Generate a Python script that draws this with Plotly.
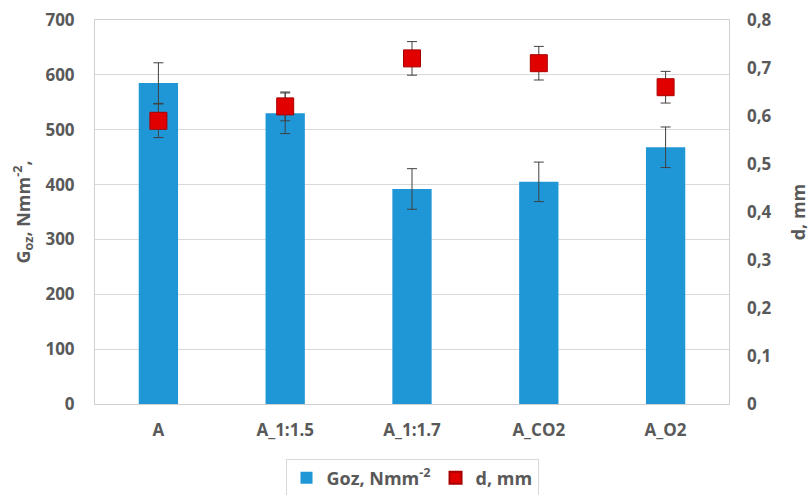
import plotly.graph_objects as go

categories = ["A", "A_1:1.5", "A_1:1.7", "A_CO2", "A_O2"]
goz = [585, 530, 392, 405, 468]
goz_err = [37, 37, 37, 36, 37]
d_mm = [0.59, 0.62, 0.72, 0.71, 0.66]
d_err = [0.035, 0.03, 0.035, 0.035, 0.033]

left_ticks = [0, 100, 200, 300, 400, 500, 600, 700]
right_ticks = [0, 0.1, 0.2, 0.3, 0.4, 0.5, 0.6, 0.7, 0.8]
right_ticktext = ["0", "0,1", "0,2", "0,3", "0,4", "0,5", "0,6", "0,7", "0,8"]

FONT = "Open Sans"
GRAY = "#595959"

fig = go.Figure()
fig.add_trace(go.Bar(
    x=categories, y=goz, width=0.31,
    name="Goz, Nmm<sup>-2</sup>",
    marker=dict(color="#1F96D6", line=dict(width=0)),
    error_y=dict(type="data", array=goz_err, color="#404040", thickness=1, width=5),
))
fig.add_trace(go.Scatter(
    x=categories, y=d_mm, yaxis="y2", mode="markers",
    name="d, mm",
    marker=dict(symbol="square", size=17, color="#E00000",
                line=dict(color="#A80000", width=1)),
    error_y=dict(type="data", array=d_err, color="#404040", thickness=1, width=5),
))

fig.update_layout(
    width=810, height=495,
    margin=dict(l=95, r=81, t=20, b=91, autoexpand=False),
    paper_bgcolor="white", plot_bgcolor="white",
    font=dict(family=FONT, color=GRAY, size=16),
    showlegend=True,
    legend=dict(orientation="h", x=0.5, xanchor="center",
                yref="container", y=0.034, yanchor="middle",
                bordercolor="#D9D9D9", borderwidth=1, itemsizing="constant",
                font=dict(family=FONT, size=18, color=GRAY, weight="bold"),
                itemwidth=30, traceorder="normal"),
    xaxis=dict(
        showline=True, linecolor="#D0D0D0", mirror=True,
        tickfont=dict(family=FONT, size=17, color=GRAY, weight="bold"),
        ticks="", ticklabelstandoff=11,
    ),
    yaxis=dict(
        range=[0, 700], tickvals=left_ticks,
        showgrid=True, gridcolor="#D9D9D9", gridwidth=1,
        showline=True, linecolor="#D0D0D0", mirror=True,
        zeroline=False,
        tickfont=dict(family=FONT, size=17, color=GRAY, weight="bold"),
        ticklabelstandoff=16,
        title=dict(text="G<sub>oz</sub>, Nmm<sup>-2</sup>,", standoff=10,
                   font=dict(family=FONT, size=18, color=GRAY, weight="bold")),
    ),
    yaxis2=dict(
        range=[0, 0.8], tickvals=right_ticks, ticktext=right_ticktext,
        overlaying="y", side="right", showgrid=False, zeroline=False,
        tickfont=dict(family=FONT, size=17, color=GRAY, weight="bold"),
        ticklabelstandoff=17,
        title=dict(text="d, mm", standoff=30,
                   font=dict(family=FONT, size=18, color=GRAY, weight="bold")),
    ),
)

fig.write_html("out.html")
